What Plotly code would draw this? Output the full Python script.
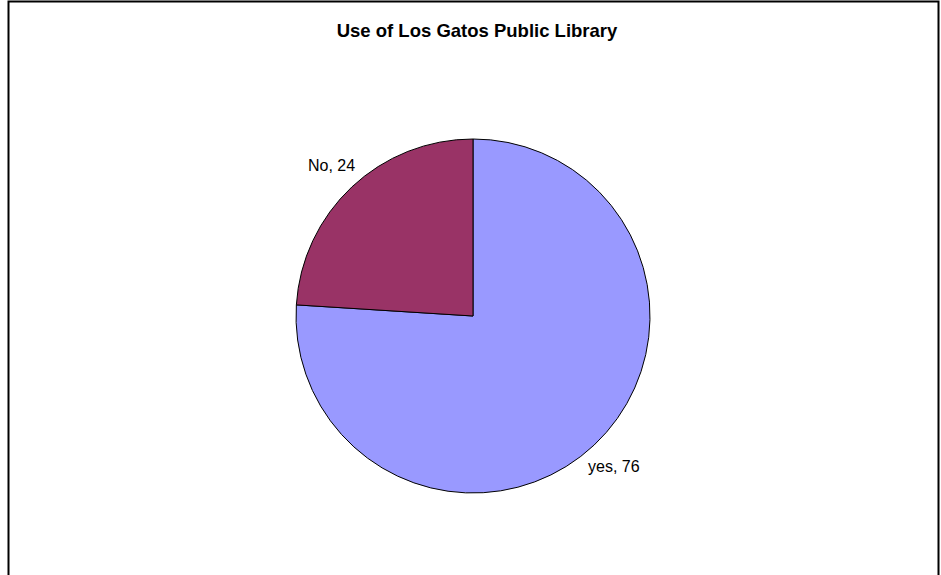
import math
import plotly.graph_objects as go

categories = ["yes", "No"]
values = [76, 24]
colors = ["#9999FF", "#993366"]

W, H = 941, 575
cx, cy, r = 473, 316, 177
label_r = r + 29

fig = go.Figure(go.Pie(
    labels=categories,
    values=values,
    sort=False,
    direction="clockwise",
    rotation=0,
    marker=dict(colors=colors, line=dict(color="black", width=1)),
    textinfo="none",
    showlegend=False,
    hoverinfo="label+value",
    domain=dict(x=[(cx - r) / W, (cx + r) / W], y=[(H - cy - r) / H, (H - cy + r) / H]),
))

# Data labels placed along each slice's mid-angle (clockwise from 12 o'clock)
total = sum(values)
annotations = []
cum = 0.0
for lab, val in zip(categories, values):
    mid = (cum + val / 2) / total * 2 * math.pi
    cum += val
    px = cx + label_r * math.sin(mid)
    py = cy - label_r * math.cos(mid)
    annotations.append(dict(
        text=f"{lab}, {val}", x=px / W, y=1 - py / H,
        xref="paper", yref="paper", xanchor="center", yanchor="middle",
        showarrow=False,
        font=dict(family="Liberation Sans, Arial, sans-serif", size=16, color="black"),
    ))

fig.update_layout(
    width=W, height=H,
    margin=dict(l=0, r=0, t=0, b=0),
    paper_bgcolor="white",
    plot_bgcolor="white",
    title=dict(
        text="<b>Use of Los Gatos Public Library</b>",
        x=477 / W, xanchor="center",
        y=1 - 31 / H, yanchor="middle",
        font=dict(family="Liberation Sans, Arial, sans-serif", size=18.5, color="black"),
    ),
    annotations=annotations,
    shapes=[dict(
        type="rect", xref="paper", yref="paper",
        x0=8.5 / W, x1=938.5 / W, y0=-0.05, y1=1 - 1.5 / H,
        line=dict(color="black", width=2), fillcolor="rgba(0,0,0,0)",
    )],
)

fig.write_html(
    "out.html",
    config={"displayModeBar": False},
    post_script="document.body.style.margin='0px';document.body.style.overflow='hidden';",
)
